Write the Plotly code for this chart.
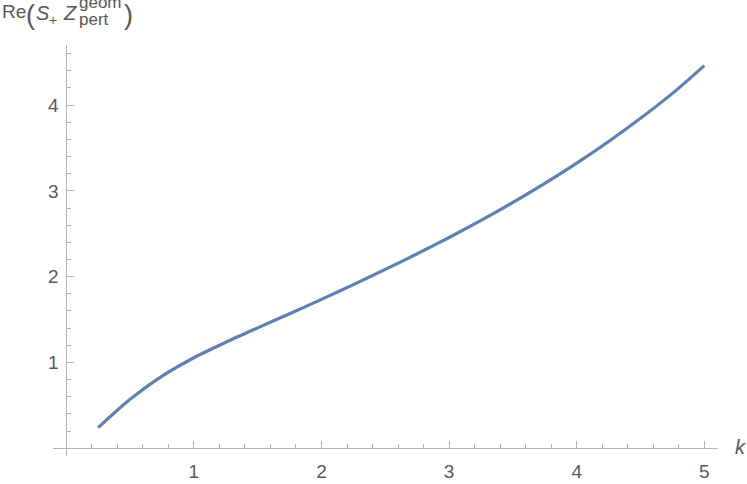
import plotly.graph_objects as go

# values
k_vals = [0.25, 0.5, 0.75, 1.0, 1.25, 1.5, 1.75, 2.0, 2.25, 2.5,
          2.75, 3.0, 3.25, 3.5, 3.75, 4.0, 4.25, 4.5, 4.75, 5.0]
re_vals = [0.24, 0.57, 0.84, 1.055, 1.235, 1.403, 1.568, 1.735, 1.907, 2.085,
           2.267, 2.457, 2.656, 2.866, 3.088, 3.324, 3.576, 3.846, 4.136, 4.46]
x_ticks = [1, 2, 3, 4, 5]
y_ticks = [1, 2, 3, 4]

W, H = 747, 484
# plot area in pixels
PL, PR, PT, PB = 53, 718, 45, 456
x_range = [-0.104, 5.107]
y_range = [-0.09, 4.70]

axis_col = "#b3b3b3"
text_col = "#595959"
font = "Liberation Sans, Arial, sans-serif"


def px_x(p):
    return (p - PL) / (PR - PL)


def px_y(p):
    return (PB - p) / (PB - PT)


fig = go.Figure()
fig.add_trace(go.Scatter(
    x=k_vals, y=re_vals, mode="lines",
    line=dict(color="#5e81b5", width=3.2, shape="spline", smoothing=0.8),
    hoverinfo="skip",
))

fig.update_xaxes(
    range=x_range, anchor="free", automargin=False,
    position=(0 - y_range[0]) / (y_range[1] - y_range[0]),
    showline=True, linecolor=axis_col, linewidth=1,
    showgrid=False, zeroline=False,
    tickmode="array", tickvals=x_ticks,
    ticks="inside", ticklen=7, tickcolor=axis_col,
    tickfont=dict(family=font, size=19, color=text_col),
    ticklabelstandoff=6,
    minor=dict(dtick=0.2, tick0=0, ticks="inside", ticklen=4, tickcolor=axis_col, showgrid=False),
)
fig.update_yaxes(
    range=y_range, anchor="free", automargin=False,
    position=(0 - x_range[0]) / (x_range[1] - x_range[0]),
    showline=True, linecolor=axis_col, linewidth=1,
    showgrid=False, zeroline=False,
    tickmode="array", tickvals=y_ticks,
    ticks="inside", ticklen=7, tickcolor=axis_col,
    tickfont=dict(family=font, size=19, color=text_col),
    ticklabelstandoff=4,
    minor=dict(dtick=0.2, tick0=0, ticks="inside", ticklen=4, tickcolor=axis_col, showgrid=False),
)

# axis labels (positions in pixels)
labels = [
    ("Re", 0, 12, 19),
    ("(", 24, 15, 27),
    ("<i>S</i>", 34, 13, 20),
    ("+", 47, 20, 14),
    ("<i>Z</i>", 61, 13, 20),
    ("geom", 77, 3, 17),
    ("pert", 77, 20, 17),
    (")", 122, 15, 27),
]
for txt, x, y, size in labels:
    fig.add_annotation(
        text=txt, x=px_x(x), y=px_y(y), xref="paper", yref="paper",
        xanchor="left", yanchor="middle", showarrow=False,
        font=dict(family=font, size=size, color=text_col),
    )
fig.add_annotation(
    text="<i>k</i>", x=px_x(740), y=px_y(447), xref="paper", yref="paper",
    xanchor="center", yanchor="middle", showarrow=False,
    font=dict(family=font, size=20, color=text_col),
)

fig.update_layout(
    width=W, height=H,
    margin=dict(l=PL, r=W - PR, t=PT, b=H - PB, autoexpand=False),
    plot_bgcolor="white", paper_bgcolor="white",
    showlegend=False,
)

# drop the default body margin so the figure sits at the page corner
fig.write_html(
    "out.html",
    config={"displayModeBar": False},
    post_script="document.body.style.margin = '0px';",
)
